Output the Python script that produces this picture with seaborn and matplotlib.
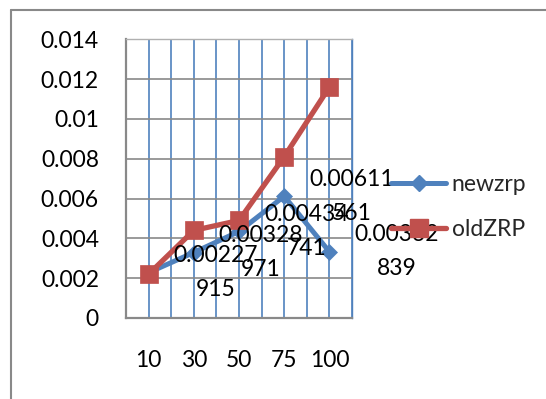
import numpy as np
import pandas as pd
import matplotlib
matplotlib.use("Agg")
import matplotlib.pyplot as plt
import seaborn as sns
from matplotlib.lines import Line2D
from matplotlib.ticker import FuncFormatter

# Chart data
categories = ["10", "30", "50", "75", "100"]
newzrp = [0.00227915, 0.00328971, 0.00434741, 0.00611561, 0.00332839]
oldzrp = [0.0022, 0.0044, 0.0049, 0.0081, 0.0116]
series_names = ["newzrp", "oldZRP"]
y_ticks = [0, 0.002, 0.004, 0.006, 0.008, 0.01, 0.012, 0.014]

BLUE = "#4F81BD"
RED = "#C0504D"
GRAY = "#898989"

sns.set_theme(style="white")
plt.rcParams["font.family"] = ["Lato", "DejaVu Sans"]
FS = 16.5

W, H = 546, 399
fig = plt.figure(figsize=(W / 100, H / 100), dpi=100)
ax = fig.add_axes([126 / W, 1 - 318 / H, (352 - 126) / W, (318 - 39.3) / H])

pos = np.arange(len(categories))
df = pd.DataFrame({
    "pos": np.concatenate([pos, pos]),
    "value": newzrp + oldzrp,
    "series": [series_names[0]] * len(newzrp) + [series_names[1]] * len(oldzrp),
})

markers = {"newzrp": "D", "oldZRP": "s"}
palette = {"newzrp": BLUE, "oldZRP": RED}
sns.lineplot(data=df, x="pos", y="value", hue="series", style="series",
             hue_order=series_names, style_order=series_names,
             markers=markers, dashes=False, palette=palette,
             legend=False, ax=ax)

sizes = {BLUE: (8.5, 3.6), RED: (13, 3.8)}
for ln in ax.lines:
    c = matplotlib.colors.to_hex(ln.get_color()).upper()
    ms, lw = sizes.get(c, (8, 3))
    ln.set_markersize(ms)
    ln.set_linewidth(lw)
    ln.set_markeredgecolor(c)
    ln.set_markerfacecolor(c)
    ln.set_markeredgewidth(0.5)

# Wrapped value labels to the right of each newzrp point
for x, v in zip(pos, newzrp):
    s = f"{v:.8f}"
    ax.annotate(s[:7] + "\n" + s[7:], (x, v), xytext=(18, 0),
                textcoords="offset points", ha="left", va="center",
                multialignment="center", linespacing=1.75, fontsize=FS,
                color="black", zorder=4, annotation_clip=False)

ax.set_xlim(-0.5, len(categories) - 0.5)
ax.set_ylim(0, 0.014)
ax.set_xticks(pos)
ax.set_xticklabels(categories)
ax.set_xticks(np.arange(-0.5, len(categories), 0.5), minor=True)
ax.set_yticks(y_ticks)
ax.yaxis.set_major_formatter(FuncFormatter(lambda v, p: f"{v:g}"))
ax.set_xlabel("")
ax.set_ylabel("")

ax.set_axisbelow(True)
ax.grid(which="both", axis="x", color=BLUE, linewidth=1.2)
ax.grid(which="major", axis="y", color=GRAY, linewidth=1.2)

ax.tick_params(axis="x", which="major", length=0, pad=23, labelsize=FS, colors="black")
ax.tick_params(axis="x", which="minor", length=5, width=1.2, color=GRAY, direction="out")
ax.tick_params(axis="y", which="major", length=6.5, width=1.1, color=GRAY,
               direction="out", pad=13, labelsize=FS, labelcolor="black")

for side in ["left", "bottom"]:
    ax.spines[side].set_color(GRAY)
    ax.spines[side].set_linewidth(1.6)
ax.spines["top"].set_color("#B0B0B0")
ax.spines["top"].set_linewidth(1.0)
ax.spines["right"].set_color(BLUE)
ax.spines["right"].set_linewidth(1.0)

# Legend to the right of the plot area
handles = [
    Line2D([], [], color=BLUE, lw=3.6, marker="D", markersize=8.5, mec=BLUE),
    Line2D([], [], color=RED, lw=3.8, marker="s", markersize=13, mec=RED),
]
fig.legend(handles, series_names, loc="center left",
           bbox_to_anchor=(391 / W, 1 - 206.7 / H), frameon=False,
           handlelength=2.4, handletextpad=0.25, labelspacing=1.05,
           borderpad=0, borderaxespad=0, fontsize=FS)

# Chart frame
fig.add_artist(Line2D([11 / W, 11 / W], [0, 1 - 10 / H], transform=fig.transFigure,
                      color=GRAY, lw=1.5))
fig.add_artist(Line2D([11 / W, 1], [1 - 10 / H, 1 - 10 / H], transform=fig.transFigure,
                      color=GRAY, lw=1.5))

fig.savefig("out.png", dpi=100)
